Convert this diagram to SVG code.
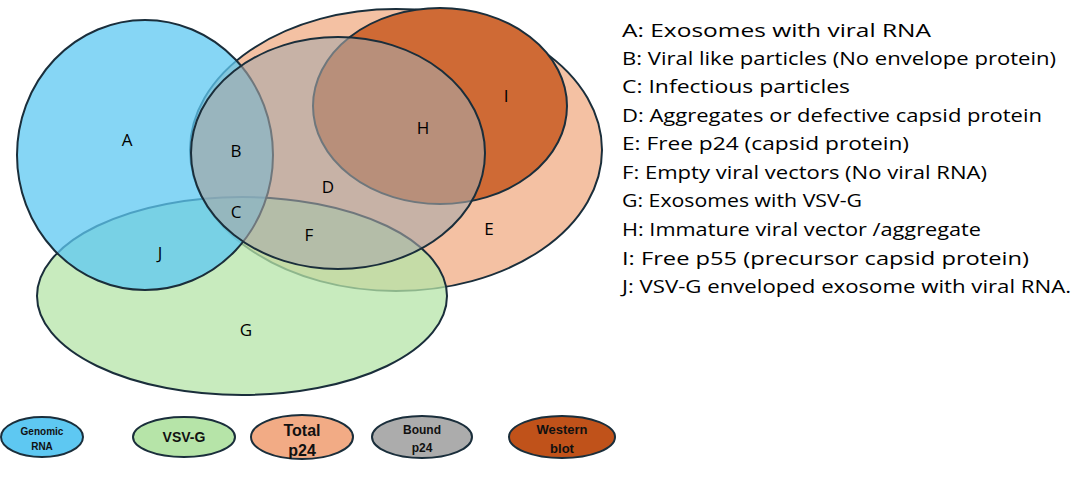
<svg xmlns="http://www.w3.org/2000/svg" width="1090" height="481" viewBox="0 0 1090 481">
<style>
.e{stroke:#1a2e3b;stroke-width:2}
.l{font-family:"Open Sans","Liberation Sans",Arial,sans-serif;font-size:17.5px;fill:#000}
.k{font-family:"Liberation Sans",Arial,sans-serif;font-size:12px;font-weight:bold;fill:#111;text-anchor:middle}
.r{font-family:"Open Sans","Liberation Sans",Arial,sans-serif;font-size:17px;fill:#000;text-anchor:middle}
</style>
<rect width="1090" height="481" fill="#fff"/>
<g id="total"><ellipse class="e" cx="396" cy="150" rx="206" ry="141" fill="#f4c1a3"/></g>
<g id="western"><ellipse class="e" cx="440" cy="106" rx="127" ry="98" fill="#cf6a35"/></g>
<g id="vsvg"><ellipse class="e" cx="242" cy="296" rx="205" ry="99" fill="#b6e4a8" fill-opacity="0.75"/></g>
<g id="genomic"><ellipse class="e" cx="145" cy="155" rx="128" ry="135" fill="#5ec8f2" fill-opacity="0.75"/></g>
<g id="bound"><ellipse class="e" cx="338" cy="153" rx="147" ry="116" fill="#a8a8a8" fill-opacity="0.6"/></g>
<g id="regions">
<text class="r" x="127" y="146">A</text>
<text class="r" x="236" y="157">B</text>
<text class="r" x="236" y="218">C</text>
<text class="r" x="328" y="193">D</text>
<text class="r" x="489" y="235">E</text>
<text class="r" x="309" y="241">F</text>
<text class="r" x="246" y="336">G</text>
<text class="r" x="423" y="134">H</text>
<text class="r" x="506" y="102">I</text>
<text class="r" x="160" y="259">J</text>
</g>
<g id="list">
<text class="l" x="622" y="37" textLength="309" lengthAdjust="spacingAndGlyphs">A: Exosomes with viral RNA</text>
<text class="l" x="622" y="65" textLength="434" lengthAdjust="spacingAndGlyphs">B: Viral like particles (No envelope protein)</text>
<text class="l" x="622" y="93" textLength="228" lengthAdjust="spacingAndGlyphs">C: Infectious particles</text>
<text class="l" x="622" y="122" textLength="420" lengthAdjust="spacingAndGlyphs">D: Aggregates or defective capsid protein</text>
<text class="l" x="622" y="150" textLength="287" lengthAdjust="spacingAndGlyphs">E: Free p24 (capsid protein)</text>
<text class="l" x="622" y="179" textLength="365" lengthAdjust="spacingAndGlyphs">F: Empty viral vectors (No viral RNA)</text>
<text class="l" x="622" y="207" textLength="240" lengthAdjust="spacingAndGlyphs">G: Exosomes with VSV-G</text>
<text class="l" x="622" y="236" textLength="359" lengthAdjust="spacingAndGlyphs">H: Immature viral vector /aggregate</text>
<text class="l" x="622" y="265" textLength="407" lengthAdjust="spacingAndGlyphs">I: Free p55 (precursor capsid protein)</text>
<text class="l" x="622" y="293" textLength="449" lengthAdjust="spacingAndGlyphs">J: VSV-G enveloped exosome with viral RNA.</text>
</g>
<g id="legend">
<g id="lg1"><ellipse class="e" cx="42" cy="437" rx="41" ry="20" fill="#5ec8f2"/><text class="k" x="42" y="435" style="font-size:10px">Genomic</text><text class="k" x="42" y="450" style="font-size:10px">RNA</text></g>
<g id="lg2"><ellipse class="e" cx="184" cy="437" rx="51" ry="20" fill="#b6e4a8"/><text class="k" x="184" y="442" style="font-size:14px">VSV-G</text></g>
<g id="lg3"><ellipse class="e" cx="302" cy="437" rx="51" ry="22" fill="#f2ab85"/><text class="k" x="302" y="436" style="font-size:16px">Total</text><text class="k" x="302" y="456" style="font-size:16px">p24</text></g>
<g id="lg4"><ellipse class="e" cx="422" cy="437" rx="50" ry="21" fill="#acacac"/><text class="k" x="422" y="434">Bound</text><text class="k" x="422" y="452">p24</text></g>
<g id="lg5"><ellipse class="e" cx="562" cy="437" rx="53" ry="21" fill="#c0521a"/><text class="k" x="562" y="434" style="font-size:13px">Western</text><text class="k" x="562" y="453" style="font-size:13px">blot</text></g>
</g>
</svg>
